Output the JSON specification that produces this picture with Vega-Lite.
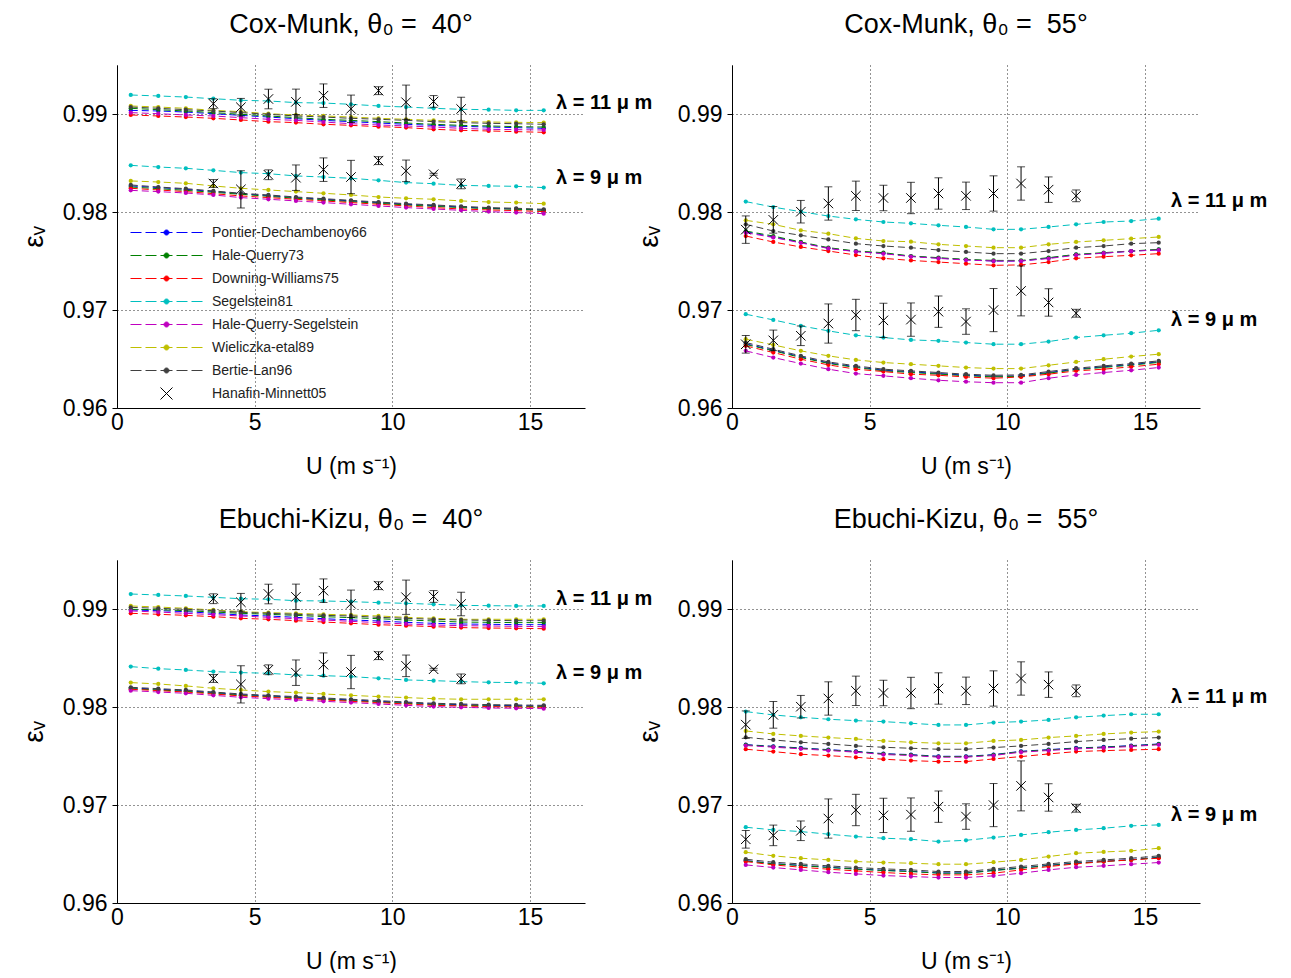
{
"$schema":"https://vega.github.io/schema/vega-lite/v6.json",
"background":"white",
"padding":{"left":20,"top":11,"right":5,"bottom":0},
"config":{
 "font":"Liberation Sans",
 "view":{"stroke":null},
 "title":{"fontSize":27,"fontWeight":"normal","font":"Liberation Sans","color":"black","offset":26,"baseline":"alphabetic"},
 "axis":{"labelFont":"Liberation Sans","labelFontSize":23,"labelColor":"black","titleFont":"Liberation Sans","titleFontSize":23,"titleFontWeight":"normal","titleColor":"black","domainColor":"black","domainWidth":1,"tickColor":"black","grid":true,"gridColor":"black","gridDash":[1,3],"gridOpacity":0.85,"gridWidth":1},
 "axisX":{"ticks":false,"labelPadding":3,"titlePadding":21,"labelFlush":false},
 "axisY":{"tickSize":5,"labelPadding":5,"titlePadding":14,"titleFontSize":28}
},
"datasets":{
"m":[
{"p":"A","l":11,"u":0.5,"PD":0.99037,"HQ":0.99058,"DW":0.9899,"S":0.99194,"HQS":0.99014,"W":0.99082,"BL":0.99071},
{"p":"A","l":11,"u":1.5,"PD":0.99031,"HQ":0.99044,"DW":0.9898,"S":0.99184,"HQS":0.99003,"W":0.99071,"BL":0.99058},
{"p":"A","l":11,"u":2.5,"PD":0.9902,"HQ":0.99031,"DW":0.98969,"S":0.99173,"HQS":0.9899,"W":0.99058,"BL":0.99044},
{"p":"A","l":11,"u":3.5,"PD":0.99003,"HQ":0.99014,"DW":0.98956,"S":0.99156,"HQS":0.9898,"W":0.99037,"BL":0.99031},
{"p":"A","l":11,"u":4.5,"PD":0.98986,"HQ":0.98997,"DW":0.98939,"S":0.9914,"HQS":0.98963,"W":0.99024,"BL":0.99014},
{"p":"A","l":11,"u":5.5,"PD":0.98969,"HQ":0.9898,"DW":0.98922,"S":0.99133,"HQS":0.98946,"W":0.99003,"BL":0.98997},
{"p":"A","l":11,"u":6.5,"PD":0.98952,"HQ":0.98963,"DW":0.98912,"S":0.99116,"HQS":0.98935,"W":0.9899,"BL":0.9898},
{"p":"A","l":11,"u":7.5,"PD":0.98935,"HQ":0.98946,"DW":0.98895,"S":0.99112,"HQS":0.98918,"W":0.9898,"BL":0.98969},
{"p":"A","l":11,"u":8.5,"PD":0.98922,"HQ":0.98935,"DW":0.98884,"S":0.99099,"HQS":0.98901,"W":0.98969,"BL":0.98956},
{"p":"A","l":11,"u":9.5,"PD":0.98908,"HQ":0.98922,"DW":0.98871,"S":0.99082,"HQS":0.98888,"W":0.98956,"BL":0.98946},
{"p":"A","l":11,"u":10.5,"PD":0.98895,"HQ":0.98908,"DW":0.98861,"S":0.99071,"HQS":0.98878,"W":0.98946,"BL":0.98935},
{"p":"A","l":11,"u":11.5,"PD":0.98884,"HQ":0.98895,"DW":0.98844,"S":0.99058,"HQS":0.98867,"W":0.98935,"BL":0.98922},
{"p":"A","l":11,"u":12.5,"PD":0.98874,"HQ":0.98884,"DW":0.98833,"S":0.99048,"HQS":0.98854,"W":0.98922,"BL":0.98912},
{"p":"A","l":11,"u":13.5,"PD":0.98867,"HQ":0.98878,"DW":0.98827,"S":0.99044,"HQS":0.98844,"W":0.98918,"BL":0.98905},
{"p":"A","l":11,"u":14.5,"PD":0.98861,"HQ":0.98871,"DW":0.9882,"S":0.99037,"HQS":0.9884,"W":0.98915,"BL":0.98901},
{"p":"A","l":11,"u":15.5,"PD":0.98854,"HQ":0.98867,"DW":0.98813,"S":0.99037,"HQS":0.98837,"W":0.98912,"BL":0.98895},
{"p":"A","l":9,"u":0.5,"PD":0.98266,"HQ":0.98255,"DW":0.98242,"S":0.98476,"HQS":0.98221,"W":0.98317,"BL":0.98276},
{"p":"A","l":9,"u":1.5,"PD":0.98249,"HQ":0.98238,"DW":0.98225,"S":0.98459,"HQS":0.98208,"W":0.98306,"BL":0.98255},
{"p":"A","l":9,"u":2.5,"PD":0.98232,"HQ":0.98221,"DW":0.98208,"S":0.98446,"HQS":0.98194,"W":0.98293,"BL":0.98238},
{"p":"A","l":9,"u":3.5,"PD":0.98208,"HQ":0.98201,"DW":0.98187,"S":0.98425,"HQS":0.98174,"W":0.98266,"BL":0.98215},
{"p":"A","l":9,"u":4.5,"PD":0.98187,"HQ":0.98181,"DW":0.98164,"S":0.98402,"HQS":0.98147,"W":0.98242,"BL":0.98191},
{"p":"A","l":9,"u":5.5,"PD":0.98167,"HQ":0.9816,"DW":0.98147,"S":0.98391,"HQS":0.9813,"W":0.98225,"BL":0.98174},
{"p":"A","l":9,"u":6.5,"PD":0.98147,"HQ":0.9814,"DW":0.9813,"S":0.98368,"HQS":0.98113,"W":0.98208,"BL":0.98153},
{"p":"A","l":9,"u":7.5,"PD":0.9813,"HQ":0.98123,"DW":0.98113,"S":0.98357,"HQS":0.98096,"W":0.98191,"BL":0.98136},
{"p":"A","l":9,"u":8.5,"PD":0.98113,"HQ":0.98106,"DW":0.98096,"S":0.98344,"HQS":0.98079,"W":0.98174,"BL":0.98119},
{"p":"A","l":9,"u":9.5,"PD":0.98096,"HQ":0.98089,"DW":0.98079,"S":0.98323,"HQS":0.98062,"W":0.98153,"BL":0.98102},
{"p":"A","l":9,"u":10.5,"PD":0.98079,"HQ":0.98072,"DW":0.98062,"S":0.983,"HQS":0.98045,"W":0.9814,"BL":0.98085},
{"p":"A","l":9,"u":11.5,"PD":0.98065,"HQ":0.98058,"DW":0.98045,"S":0.98289,"HQS":0.98031,"W":0.9813,"BL":0.98072},
{"p":"A","l":9,"u":12.5,"PD":0.98051,"HQ":0.98045,"DW":0.98031,"S":0.98272,"HQS":0.98017,"W":0.98113,"BL":0.98058},
{"p":"A","l":9,"u":13.5,"PD":0.98038,"HQ":0.98034,"DW":0.98021,"S":0.98266,"HQS":0.98004,"W":0.98102,"BL":0.98045},
{"p":"A","l":9,"u":14.5,"PD":0.98031,"HQ":0.98028,"DW":0.98014,"S":0.98262,"HQS":0.97994,"W":0.98096,"BL":0.98038},
{"p":"A","l":9,"u":15.5,"PD":0.98021,"HQ":0.98017,"DW":0.98004,"S":0.98249,"HQS":0.97983,"W":0.98085,"BL":0.98028},
{"p":"B","l":11,"u":0.5,"PD":0.97799,"HQ":0.97806,"DW":0.97755,"S":0.98106,"HQS":0.97789,"W":0.97915,"BL":0.97874},
{"p":"B","l":11,"u":1.5,"PD":0.97745,"HQ":0.97755,"DW":0.97694,"S":0.9805,"HQS":0.9774,"W":0.97874,"BL":0.97806},
{"p":"B","l":11,"u":2.5,"PD":0.9769,"HQ":0.97694,"DW":0.97643,"S":0.98003,"HQS":0.97685,"W":0.97813,"BL":0.97762},
{"p":"B","l":11,"u":3.5,"PD":0.9763,"HQ":0.97636,"DW":0.97602,"S":0.97959,"HQS":0.97628,"W":0.97779,"BL":0.9772},
{"p":"B","l":11,"u":4.5,"PD":0.97598,"HQ":0.97602,"DW":0.97561,"S":0.97925,"HQS":0.97595,"W":0.97731,"BL":0.97677},
{"p":"B","l":11,"u":5.5,"PD":0.97578,"HQ":0.97585,"DW":0.97527,"S":0.97898,"HQS":0.97575,"W":0.97704,"BL":0.97653},
{"p":"B","l":11,"u":6.5,"PD":0.97548,"HQ":0.97551,"DW":0.97506,"S":0.97884,"HQS":0.97545,"W":0.97697,"BL":0.97636},
{"p":"B","l":11,"u":7.5,"PD":0.9753,"HQ":0.97534,"DW":0.97489,"S":0.97864,"HQS":0.97527,"W":0.9767,"BL":0.97612},
{"p":"B","l":11,"u":8.5,"PD":0.97512,"HQ":0.97517,"DW":0.97473,"S":0.97847,"HQS":0.9751,"W":0.97653,"BL":0.97592},
{"p":"B","l":11,"u":9.5,"PD":0.975,"HQ":0.97506,"DW":0.97456,"S":0.97823,"HQS":0.975,"W":0.97636,"BL":0.97575},
{"p":"B","l":11,"u":10.5,"PD":0.975,"HQ":0.97506,"DW":0.9746,"S":0.97823,"HQS":0.975,"W":0.97636,"BL":0.97575},
{"p":"B","l":11,"u":11.5,"PD":0.9753,"HQ":0.97534,"DW":0.97489,"S":0.97847,"HQS":0.97525,"W":0.9767,"BL":0.97602},
{"p":"B","l":11,"u":12.5,"PD":0.97565,"HQ":0.97568,"DW":0.97527,"S":0.97874,"HQS":0.9756,"W":0.97694,"BL":0.97636},
{"p":"B","l":11,"u":13.5,"PD":0.9758,"HQ":0.97585,"DW":0.97544,"S":0.97898,"HQS":0.9758,"W":0.97711,"BL":0.97653},
{"p":"B","l":11,"u":14.5,"PD":0.976,"HQ":0.97602,"DW":0.97558,"S":0.97908,"HQS":0.976,"W":0.97728,"BL":0.97677},
{"p":"B","l":11,"u":15.5,"PD":0.97615,"HQ":0.97619,"DW":0.97575,"S":0.97932,"HQS":0.97612,"W":0.97745,"BL":0.97687},
{"p":"B","l":9,"u":0.5,"PD":0.96655,"HQ":0.96648,"DW":0.96634,"S":0.96957,"HQS":0.96583,"W":0.96702,"BL":0.96668},
{"p":"B","l":9,"u":1.5,"PD":0.9659,"HQ":0.96584,"DW":0.96566,"S":0.96899,"HQS":0.96515,"W":0.96644,"BL":0.966},
{"p":"B","l":9,"u":2.5,"PD":0.96522,"HQ":0.96515,"DW":0.96498,"S":0.96838,"HQS":0.96453,"W":0.96583,"BL":0.96532},
{"p":"B","l":9,"u":3.5,"PD":0.9646,"HQ":0.96455,"DW":0.9644,"S":0.96787,"HQS":0.96396,"W":0.96532,"BL":0.9647},
{"p":"B","l":9,"u":4.5,"PD":0.9642,"HQ":0.96413,"DW":0.96396,"S":0.96742,"HQS":0.96351,"W":0.96491,"BL":0.9643},
{"p":"B","l":9,"u":5.5,"PD":0.96386,"HQ":0.9638,"DW":0.96372,"S":0.96719,"HQS":0.96328,"W":0.96464,"BL":0.96396},
{"p":"B","l":9,"u":6.5,"PD":0.96369,"HQ":0.96362,"DW":0.96345,"S":0.96695,"HQS":0.96304,"W":0.96447,"BL":0.96379},
{"p":"B","l":9,"u":7.5,"PD":0.96352,"HQ":0.96346,"DW":0.96334,"S":0.96685,"HQS":0.96283,"W":0.9643,"BL":0.96362},
{"p":"B","l":9,"u":8.5,"PD":0.96335,"HQ":0.96329,"DW":0.96317,"S":0.96668,"HQS":0.96268,"W":0.96413,"BL":0.96345},
{"p":"B","l":9,"u":9.5,"PD":0.96324,"HQ":0.96318,"DW":0.96304,"S":0.96651,"HQS":0.96258,"W":0.96402,"BL":0.96334},
{"p":"B","l":9,"u":10.5,"PD":0.96328,"HQ":0.96322,"DW":0.96317,"S":0.96651,"HQS":0.96258,"W":0.96402,"BL":0.96338},
{"p":"B","l":9,"u":11.5,"PD":0.96362,"HQ":0.96356,"DW":0.96345,"S":0.96678,"HQS":0.96304,"W":0.96436,"BL":0.96372},
{"p":"B","l":9,"u":12.5,"PD":0.96396,"HQ":0.9639,"DW":0.96379,"S":0.96719,"HQS":0.96338,"W":0.9647,"BL":0.96406},
{"p":"B","l":9,"u":13.5,"PD":0.9642,"HQ":0.96414,"DW":0.96396,"S":0.96742,"HQS":0.96362,"W":0.96498,"BL":0.9643},
{"p":"B","l":9,"u":14.5,"PD":0.96443,"HQ":0.96437,"DW":0.9642,"S":0.96763,"HQS":0.96385,"W":0.96525,"BL":0.96453},
{"p":"B","l":9,"u":15.5,"PD":0.96471,"HQ":0.96465,"DW":0.96447,"S":0.96793,"HQS":0.96413,"W":0.96549,"BL":0.96481},
{"p":"C","l":11,"u":0.5,"PD":0.9899,"HQ":0.98997,"DW":0.98956,"S":0.99153,"HQS":0.9898,"W":0.99031,"BL":0.99017},
{"p":"C","l":11,"u":1.5,"PD":0.98983,"HQ":0.98993,"DW":0.98946,"S":0.99143,"HQS":0.98969,"W":0.9902,"BL":0.99007},
{"p":"C","l":11,"u":2.5,"PD":0.98973,"HQ":0.98983,"DW":0.98935,"S":0.99133,"HQS":0.98956,"W":0.99007,"BL":0.98997},
{"p":"C","l":11,"u":3.5,"PD":0.98956,"HQ":0.98969,"DW":0.98922,"S":0.99119,"HQS":0.98942,"W":0.9899,"BL":0.98983},
{"p":"C","l":11,"u":4.5,"PD":0.98939,"HQ":0.98956,"DW":0.98905,"S":0.99105,"HQS":0.98929,"W":0.98973,"BL":0.98966},
{"p":"C","l":11,"u":5.5,"PD":0.98929,"HQ":0.98946,"DW":0.98895,"S":0.99099,"HQS":0.98915,"W":0.98963,"BL":0.98956},
{"p":"C","l":11,"u":6.5,"PD":0.98915,"HQ":0.98935,"DW":0.98881,"S":0.99085,"HQS":0.98901,"W":0.98956,"BL":0.98946},
{"p":"C","l":11,"u":7.5,"PD":0.98901,"HQ":0.98922,"DW":0.98867,"S":0.99082,"HQS":0.98888,"W":0.98946,"BL":0.98935},
{"p":"C","l":11,"u":8.5,"PD":0.98888,"HQ":0.98912,"DW":0.98854,"S":0.99075,"HQS":0.98874,"W":0.98939,"BL":0.98929},
{"p":"C","l":11,"u":9.5,"PD":0.98878,"HQ":0.98901,"DW":0.9884,"S":0.99065,"HQS":0.98861,"W":0.98929,"BL":0.98915},
{"p":"C","l":11,"u":10.5,"PD":0.98864,"HQ":0.98888,"DW":0.9883,"S":0.99058,"HQS":0.98847,"W":0.98915,"BL":0.98905},
{"p":"C","l":11,"u":11.5,"PD":0.98854,"HQ":0.98878,"DW":0.9882,"S":0.99048,"HQS":0.98837,"W":0.98905,"BL":0.98895},
{"p":"C","l":11,"u":12.5,"PD":0.98847,"HQ":0.98867,"DW":0.9881,"S":0.99037,"HQS":0.9883,"W":0.98895,"BL":0.98888},
{"p":"C","l":11,"u":13.5,"PD":0.98844,"HQ":0.98864,"DW":0.98806,"S":0.99034,"HQS":0.98827,"W":0.98895,"BL":0.98884},
{"p":"C","l":11,"u":14.5,"PD":0.9884,"HQ":0.98861,"DW":0.98803,"S":0.99031,"HQS":0.98823,"W":0.98895,"BL":0.98881},
{"p":"C","l":11,"u":15.5,"PD":0.9884,"HQ":0.98861,"DW":0.98799,"S":0.99031,"HQS":0.9882,"W":0.98895,"BL":0.98881},
{"p":"C","l":9,"u":0.5,"PD":0.98194,"HQ":0.98187,"DW":0.98181,"S":0.98412,"HQS":0.98167,"W":0.98249,"BL":0.98201},
{"p":"C","l":9,"u":1.5,"PD":0.98181,"HQ":0.98174,"DW":0.98167,"S":0.98391,"HQS":0.98153,"W":0.98235,"BL":0.98187},
{"p":"C","l":9,"u":2.5,"PD":0.98167,"HQ":0.9816,"DW":0.98153,"S":0.98378,"HQS":0.9814,"W":0.98215,"BL":0.98174},
{"p":"C","l":9,"u":3.5,"PD":0.98147,"HQ":0.9814,"DW":0.98133,"S":0.98361,"HQS":0.98119,"W":0.98191,"BL":0.98153},
{"p":"C","l":9,"u":4.5,"PD":0.98126,"HQ":0.98119,"DW":0.98113,"S":0.98351,"HQS":0.98099,"W":0.98174,"BL":0.98133},
{"p":"C","l":9,"u":5.5,"PD":0.98113,"HQ":0.98106,"DW":0.98099,"S":0.98344,"HQS":0.98085,"W":0.98157,"BL":0.98119},
{"p":"C","l":9,"u":6.5,"PD":0.98099,"HQ":0.98092,"DW":0.98085,"S":0.98327,"HQS":0.98072,"W":0.98147,"BL":0.98106},
{"p":"C","l":9,"u":7.5,"PD":0.98085,"HQ":0.98079,"DW":0.98072,"S":0.9832,"HQS":0.98058,"W":0.98133,"BL":0.98092},
{"p":"C","l":9,"u":8.5,"PD":0.98072,"HQ":0.98065,"DW":0.98058,"S":0.9831,"HQS":0.98045,"W":0.98119,"BL":0.98079},
{"p":"C","l":9,"u":9.5,"PD":0.98058,"HQ":0.98051,"DW":0.98045,"S":0.98293,"HQS":0.98031,"W":0.98106,"BL":0.98065},
{"p":"C","l":9,"u":10.5,"PD":0.98045,"HQ":0.98038,"DW":0.98031,"S":0.98276,"HQS":0.98017,"W":0.98096,"BL":0.98051},
{"p":"C","l":9,"u":11.5,"PD":0.98031,"HQ":0.98024,"DW":0.98017,"S":0.98269,"HQS":0.98004,"W":0.98085,"BL":0.98038},
{"p":"C","l":9,"u":12.5,"PD":0.98024,"HQ":0.98017,"DW":0.98011,"S":0.98259,"HQS":0.97997,"W":0.98079,"BL":0.98031},
{"p":"C","l":9,"u":13.5,"PD":0.98017,"HQ":0.98011,"DW":0.98004,"S":0.98252,"HQS":0.9799,"W":0.98079,"BL":0.98024},
{"p":"C","l":9,"u":14.5,"PD":0.98014,"HQ":0.98007,"DW":0.98,"S":0.98249,"HQS":0.97987,"W":0.98079,"BL":0.98021},
{"p":"C","l":9,"u":15.5,"PD":0.98011,"HQ":0.98004,"DW":0.97997,"S":0.98242,"HQS":0.97983,"W":0.98079,"BL":0.98017},
{"p":"D","l":11,"u":0.5,"PD":0.97616,"HQ":0.97613,"DW":0.97569,"S":0.97953,"HQS":0.97607,"W":0.97756,"BL":0.97691},
{"p":"D","l":11,"u":1.5,"PD":0.97599,"HQ":0.97596,"DW":0.97545,"S":0.97919,"HQS":0.9759,"W":0.97725,"BL":0.97664},
{"p":"D","l":11,"u":2.5,"PD":0.97582,"HQ":0.97579,"DW":0.97518,"S":0.97895,"HQS":0.97573,"W":0.97705,"BL":0.9764},
{"p":"D","l":11,"u":3.5,"PD":0.97565,"HQ":0.97562,"DW":0.97504,"S":0.97875,"HQS":0.97556,"W":0.97688,"BL":0.97623},
{"p":"D","l":11,"u":4.5,"PD":0.97548,"HQ":0.97545,"DW":0.97487,"S":0.97861,"HQS":0.97539,"W":0.97674,"BL":0.97603},
{"p":"D","l":11,"u":5.5,"PD":0.97524,"HQ":0.97521,"DW":0.97467,"S":0.97851,"HQS":0.97515,"W":0.97654,"BL":0.97589},
{"p":"D","l":11,"u":6.5,"PD":0.97514,"HQ":0.97511,"DW":0.97453,"S":0.97834,"HQS":0.97505,"W":0.9764,"BL":0.97579},
{"p":"D","l":11,"u":7.5,"PD":0.97497,"HQ":0.97494,"DW":0.97443,"S":0.97817,"HQS":0.97488,"W":0.9763,"BL":0.97569},
{"p":"D","l":11,"u":8.5,"PD":0.97497,"HQ":0.97494,"DW":0.97443,"S":0.97817,"HQS":0.97488,"W":0.9763,"BL":0.97569},
{"p":"D","l":11,"u":9.5,"PD":0.97514,"HQ":0.97511,"DW":0.9747,"S":0.97841,"HQS":0.97505,"W":0.97654,"BL":0.97586},
{"p":"D","l":11,"u":10.5,"PD":0.97548,"HQ":0.97545,"DW":0.97494,"S":0.97851,"HQS":0.97539,"W":0.97664,"BL":0.97603},
{"p":"D","l":11,"u":11.5,"PD":0.97565,"HQ":0.97562,"DW":0.97521,"S":0.97868,"HQS":0.97556,"W":0.97688,"BL":0.97623},
{"p":"D","l":11,"u":12.5,"PD":0.97582,"HQ":0.97579,"DW":0.97545,"S":0.97895,"HQS":0.97573,"W":0.97705,"BL":0.97647},
{"p":"D","l":11,"u":13.5,"PD":0.97592,"HQ":0.97589,"DW":0.97555,"S":0.97912,"HQS":0.97583,"W":0.97725,"BL":0.97664},
{"p":"D","l":11,"u":14.5,"PD":0.97606,"HQ":0.97603,"DW":0.97562,"S":0.97926,"HQS":0.97597,"W":0.97739,"BL":0.97677},
{"p":"D","l":11,"u":15.5,"PD":0.97623,"HQ":0.9762,"DW":0.97569,"S":0.97926,"HQS":0.97614,"W":0.97749,"BL":0.97688},
{"p":"D","l":9,"u":0.5,"PD":0.96433,"HQ":0.9643,"DW":0.96423,"S":0.96773,"HQS":0.96389,"W":0.96518,"BL":0.96447},
{"p":"D","l":9,"u":1.5,"PD":0.96402,"HQ":0.96399,"DW":0.96389,"S":0.96746,"HQS":0.96362,"W":0.96481,"BL":0.96416},
{"p":"D","l":9,"u":2.5,"PD":0.96385,"HQ":0.96382,"DW":0.96365,"S":0.96729,"HQS":0.96338,"W":0.96457,"BL":0.96399},
{"p":"D","l":9,"u":3.5,"PD":0.96365,"HQ":0.96362,"DW":0.96345,"S":0.96702,"HQS":0.96314,"W":0.9644,"BL":0.96379},
{"p":"D","l":9,"u":4.5,"PD":0.96348,"HQ":0.96345,"DW":0.96328,"S":0.96678,"HQS":0.96297,"W":0.96423,"BL":0.96362},
{"p":"D","l":9,"u":5.5,"PD":0.96334,"HQ":0.96331,"DW":0.96311,"S":0.96661,"HQS":0.9628,"W":0.96413,"BL":0.96348},
{"p":"D","l":9,"u":6.5,"PD":0.96324,"HQ":0.96321,"DW":0.96297,"S":0.96651,"HQS":0.9627,"W":0.96406,"BL":0.96338},
{"p":"D","l":9,"u":7.5,"PD":0.96307,"HQ":0.96304,"DW":0.96287,"S":0.96627,"HQS":0.9626,"W":0.96396,"BL":0.96321},
{"p":"D","l":9,"u":8.5,"PD":0.96307,"HQ":0.96304,"DW":0.96287,"S":0.9664,"HQS":0.9626,"W":0.96396,"BL":0.96321},
{"p":"D","l":9,"u":9.5,"PD":0.96334,"HQ":0.96331,"DW":0.96304,"S":0.96668,"HQS":0.96277,"W":0.96416,"BL":0.96348},
{"p":"D","l":9,"u":10.5,"PD":0.96358,"HQ":0.96355,"DW":0.96338,"S":0.96695,"HQS":0.96304,"W":0.9644,"BL":0.96372},
{"p":"D","l":9,"u":11.5,"PD":0.96385,"HQ":0.96382,"DW":0.96372,"S":0.96722,"HQS":0.96338,"W":0.96474,"BL":0.96399},
{"p":"D","l":9,"u":12.5,"PD":0.96409,"HQ":0.96406,"DW":0.96399,"S":0.96746,"HQS":0.96365,"W":0.96508,"BL":0.96423},
{"p":"D","l":9,"u":13.5,"PD":0.96426,"HQ":0.96423,"DW":0.96423,"S":0.96763,"HQS":0.96379,"W":0.96521,"BL":0.9644},
{"p":"D","l":9,"u":14.5,"PD":0.96443,"HQ":0.9644,"DW":0.9644,"S":0.96787,"HQS":0.96396,"W":0.96532,"BL":0.96457},
{"p":"D","l":9,"u":15.5,"PD":0.96467,"HQ":0.96464,"DW":0.96457,"S":0.96797,"HQS":0.96413,"W":0.96559,"BL":0.96481}
],
"o":[
{"th":40,"l":11,"u":3.5,"e":0.99105,"err":0.0005},
{"th":40,"l":11,"u":4.5,"e":0.99069,"err":0.0009},
{"th":40,"l":11,"u":5.5,"e":0.99153,"err":0.001},
{"th":40,"l":11,"u":6.5,"e":0.99124,"err":0.0013},
{"th":40,"l":11,"u":7.5,"e":0.99187,"err":0.0012},
{"th":40,"l":11,"u":8.5,"e":0.99053,"err":0.0014},
{"th":40,"l":11,"u":9.5,"e":0.99238,"err":0.0004},
{"th":40,"l":11,"u":10.5,"e":0.9912,"err":0.00175},
{"th":40,"l":11,"u":11.5,"e":0.99128,"err":0.0006},
{"th":40,"l":11,"u":12.5,"e":0.99051,"err":0.0012},
{"th":40,"l":9,"u":3.5,"e":0.98291,"err":0.0004},
{"th":40,"l":9,"u":4.5,"e":0.98231,"err":0.0019},
{"th":40,"l":9,"u":5.5,"e":0.9838,"err":0.0005},
{"th":40,"l":9,"u":6.5,"e":0.9835,"err":0.0013},
{"th":40,"l":9,"u":7.5,"e":0.98432,"err":0.0012},
{"th":40,"l":9,"u":8.5,"e":0.98357,"err":0.0017},
{"th":40,"l":9,"u":9.5,"e":0.98524,"err":0.0004},
{"th":40,"l":9,"u":10.5,"e":0.9842,"err":0.0011},
{"th":40,"l":9,"u":11.5,"e":0.98385,"err":0.0001},
{"th":40,"l":9,"u":12.5,"e":0.98287,"err":0.0005},
{"th":55,"l":11,"u":0.5,"e":0.9782,"err":0.0014},
{"th":55,"l":11,"u":1.5,"e":0.9792,"err":0.00136},
{"th":55,"l":11,"u":2.5,"e":0.98003,"err":0.00115},
{"th":55,"l":11,"u":3.5,"e":0.98087,"err":0.0017},
{"th":55,"l":11,"u":4.5,"e":0.98165,"err":0.0015},
{"th":55,"l":11,"u":5.5,"e":0.98143,"err":0.0013},
{"th":55,"l":11,"u":6.5,"e":0.98143,"err":0.0016},
{"th":55,"l":11,"u":7.5,"e":0.98189,"err":0.0016},
{"th":55,"l":11,"u":8.5,"e":0.98165,"err":0.0014},
{"th":55,"l":11,"u":9.5,"e":0.98189,"err":0.0018},
{"th":55,"l":11,"u":10.5,"e":0.98291,"err":0.0017},
{"th":55,"l":11,"u":11.5,"e":0.98228,"err":0.0013},
{"th":55,"l":11,"u":12.5,"e":0.98165,"err":0.0006},
{"th":55,"l":9,"u":0.5,"e":0.9665,"err":0.0009},
{"th":55,"l":9,"u":1.5,"e":0.9669,"err":0.00105},
{"th":55,"l":9,"u":2.5,"e":0.96737,"err":0.001},
{"th":55,"l":9,"u":3.5,"e":0.96862,"err":0.002},
{"th":55,"l":9,"u":4.5,"e":0.96949,"err":0.0016},
{"th":55,"l":9,"u":5.5,"e":0.96894,"err":0.00175},
{"th":55,"l":9,"u":6.5,"e":0.96902,"err":0.0017},
{"th":55,"l":9,"u":7.5,"e":0.96983,"err":0.0016},
{"th":55,"l":9,"u":8.5,"e":0.96882,"err":0.0013},
{"th":55,"l":9,"u":9.5,"e":0.96999,"err":0.0022},
{"th":55,"l":9,"u":10.5,"e":0.97195,"err":0.00255},
{"th":55,"l":9,"u":11.5,"e":0.97077,"err":0.0014},
{"th":55,"l":9,"u":12.5,"e":0.96967,"err":0.0004}
],
"lab":[
{"p":"A","u":15.95,"e":0.99112,"t":"λ = 11 μ m"},
{"p":"A","u":15.95,"e":0.98347,"t":"λ = 9 μ m"},
{"p":"B","u":15.95,"e":0.98112,"t":"λ = 11 μ m"},
{"p":"B","u":15.95,"e":0.96898,"t":"λ = 9 μ m"},
{"p":"C","u":15.95,"e":0.99102,"t":"λ = 11 μ m"},
{"p":"C","u":15.95,"e":0.98347,"t":"λ = 9 μ m"},
{"p":"D","u":15.95,"e":0.98102,"t":"λ = 11 μ m"},
{"p":"D","u":15.95,"e":0.96898,"t":"λ = 9 μ m"}
]
},
"spacing":28,
"vconcat":[
{"spacing":147,"bounds":"flush","hconcat":[
{"width":468,"height":343,"title":"Cox-Munk, θ₀ = \u00a040°","layer":[
 {"data":{"name":"m"},"transform":[{"filter":"datum.p=='A'"},{"fold":["PD","HQ","DW","S","HQS","W","BL"],"as":["model","e"]}],
  "mark":{"type":"line","strokeWidth":1,"strokeDash":[7,4],"point":{"filled":true,"size":18,"opacity":1}},
  "encoding":{
   "x":{"field":"u","type":"quantitative","title":"U (m s⁻¹)","scale":{"domain":[0,17],"nice":false},"axis":{"values":[0,5,10,15]}},
   "y":{"field":"e","type":"quantitative","title":"εᵥ","scale":{"domain":[0.96,0.995],"nice":false,"zero":false},"axis":{"values":[0.96,0.97,0.98,0.99],"format":".2f"}},
   "color":{"field":"model","type":"nominal","scale":{"domain":["PD","HQ","DW","S","HQS","W","BL","HM"],"range":["#0000FF","#008000","#FF0000","#00BFBF","#BF00BF","#BFBF00","#404040","#000000"]},
    "legend":{"orient":"none","legendX":39,"legendY":157,"title":null,"padding":0,"symbolSize":400,"rowPadding":5,"labelOffset":35,"labelFontSize":14,"labelFont":"Liberation Sans","labelColor":"#222222","labelLimit":300,
     "labelExpr":"datum.label=='PD'?'Pontier-Dechambenoy66':datum.label=='HQ'?'Hale-Querry73':datum.label=='DW'?'Downing-Williams75':datum.label=='S'?'Segelstein81':datum.label=='HQS'?'Hale-Querry-Segelstein':datum.label=='W'?'Wieliczka-etal89':datum.label=='BL'?'Bertie-Lan96':'Hanafin-Minnett05'",
     "encode":{"symbols":{"update":{"shape":{"signal":"datum.value=='HM'?'M-0.6,-0.6L0.6,0.6M-0.6,0.6L0.6,-0.6':'M-3.6,0H-2.5M-2.1,0H-1M-0.6,0H0.6M1,0H2.1M2.5,0H3.6M0.25,0A0.25,0.25,0,1,1,-0.25,0A0.25,0.25,0,1,1,0.25,0Z'"},"fill":{"scale":"color","field":"value"},"stroke":{"scale":"color","field":"value"},"strokeWidth":{"value":1},"opacity":{"value":1}}}}}},
   "detail":{"field":"l","type":"nominal"}}},
 {"data":{"name":"o"},"transform":[{"filter":"datum.th==40"}],"mark":{"type":"errorbar","ticks":true,"size":8,"thickness":1,"color":"black"},"encoding":{"x":{"field":"u","type":"quantitative","title":"U (m s⁻¹)"},"y":{"field":"e","type":"quantitative","title":"εᵥ"},"yError":{"field":"err"}}},
 {"data":{"name":"o"},"transform":[{"filter":"datum.th==40"}],"mark":{"type":"point","shape":"M-1,-1L1,1M-1,1L1,-1","size":90,"strokeWidth":1,"filled":false,"opacity":1},"encoding":{"x":{"field":"u","type":"quantitative","title":"U (m s⁻¹)"},"y":{"field":"e","type":"quantitative","title":"εᵥ"},"color":{"datum":"HM","type":"nominal"}}},
 {"data":{"name":"lab"},"transform":[{"filter":"datum.p=='A'"}],"mark":{"type":"text","align":"left","baseline":"middle","fontSize":20,"fontWeight":"bold","font":"Liberation Sans","color":"black"},"encoding":{"x":{"field":"u","type":"quantitative","title":"U (m s⁻¹)"},"y":{"field":"e","type":"quantitative","title":"εᵥ"},"text":{"field":"t"}}}
]},
{"width":468,"height":343,"title":"Cox-Munk, θ₀ = \u00a055°","layer":[
 {"data":{"name":"m"},"transform":[{"filter":"datum.p=='B'"},{"fold":["PD","HQ","DW","S","HQS","W","BL"],"as":["model","e"]}],
  "mark":{"type":"line","strokeWidth":1,"strokeDash":[7,4],"point":{"filled":true,"size":18,"opacity":1}},
  "encoding":{
   "x":{"field":"u","type":"quantitative","title":"U (m s⁻¹)","scale":{"domain":[0,17],"nice":false},"axis":{"values":[0,5,10,15]}},
   "y":{"field":"e","type":"quantitative","title":"εᵥ","scale":{"domain":[0.96,0.995],"nice":false,"zero":false},"axis":{"values":[0.96,0.97,0.98,0.99],"format":".2f"}},
   "color":{"field":"model","type":"nominal"},
   "detail":{"field":"l","type":"nominal"}}},
 {"data":{"name":"o"},"transform":[{"filter":"datum.th==55"}],"mark":{"type":"errorbar","ticks":true,"size":8,"thickness":1,"color":"black"},"encoding":{"x":{"field":"u","type":"quantitative","title":"U (m s⁻¹)"},"y":{"field":"e","type":"quantitative","title":"εᵥ"},"yError":{"field":"err"}}},
 {"data":{"name":"o"},"transform":[{"filter":"datum.th==55"}],"mark":{"type":"point","shape":"M-1,-1L1,1M-1,1L1,-1","size":90,"strokeWidth":1,"filled":false,"opacity":1},"encoding":{"x":{"field":"u","type":"quantitative","title":"U (m s⁻¹)"},"y":{"field":"e","type":"quantitative","title":"εᵥ"},"color":{"datum":"HM","type":"nominal"}}},
 {"data":{"name":"lab"},"transform":[{"filter":"datum.p=='B'"}],"mark":{"type":"text","align":"left","baseline":"middle","fontSize":20,"fontWeight":"bold","font":"Liberation Sans","color":"black"},"encoding":{"x":{"field":"u","type":"quantitative","title":"U (m s⁻¹)"},"y":{"field":"e","type":"quantitative","title":"εᵥ"},"text":{"field":"t"}}}
]}
]},
{"spacing":147,"bounds":"flush","hconcat":[
{"width":468,"height":343,"title":"Ebuchi-Kizu, θ₀ = \u00a040°","layer":[
 {"data":{"name":"m"},"transform":[{"filter":"datum.p=='C'"},{"fold":["PD","HQ","DW","S","HQS","W","BL"],"as":["model","e"]}],
  "mark":{"type":"line","strokeWidth":1,"strokeDash":[7,4],"point":{"filled":true,"size":18,"opacity":1}},
  "encoding":{
   "x":{"field":"u","type":"quantitative","title":"U (m s⁻¹)","scale":{"domain":[0,17],"nice":false},"axis":{"values":[0,5,10,15]}},
   "y":{"field":"e","type":"quantitative","title":"εᵥ","scale":{"domain":[0.96,0.995],"nice":false,"zero":false},"axis":{"values":[0.96,0.97,0.98,0.99],"format":".2f"}},
   "color":{"field":"model","type":"nominal"},
   "detail":{"field":"l","type":"nominal"}}},
 {"data":{"name":"o"},"transform":[{"filter":"datum.th==40"}],"mark":{"type":"errorbar","ticks":true,"size":8,"thickness":1,"color":"black"},"encoding":{"x":{"field":"u","type":"quantitative","title":"U (m s⁻¹)"},"y":{"field":"e","type":"quantitative","title":"εᵥ"},"yError":{"field":"err"}}},
 {"data":{"name":"o"},"transform":[{"filter":"datum.th==40"}],"mark":{"type":"point","shape":"M-1,-1L1,1M-1,1L1,-1","size":90,"strokeWidth":1,"filled":false,"opacity":1},"encoding":{"x":{"field":"u","type":"quantitative","title":"U (m s⁻¹)"},"y":{"field":"e","type":"quantitative","title":"εᵥ"},"color":{"datum":"HM","type":"nominal"}}},
 {"data":{"name":"lab"},"transform":[{"filter":"datum.p=='C'"}],"mark":{"type":"text","align":"left","baseline":"middle","fontSize":20,"fontWeight":"bold","font":"Liberation Sans","color":"black"},"encoding":{"x":{"field":"u","type":"quantitative","title":"U (m s⁻¹)"},"y":{"field":"e","type":"quantitative","title":"εᵥ"},"text":{"field":"t"}}}
]},
{"width":468,"height":343,"title":"Ebuchi-Kizu, θ₀ = \u00a055°","layer":[
 {"data":{"name":"m"},"transform":[{"filter":"datum.p=='D'"},{"fold":["PD","HQ","DW","S","HQS","W","BL"],"as":["model","e"]}],
  "mark":{"type":"line","strokeWidth":1,"strokeDash":[7,4],"point":{"filled":true,"size":18,"opacity":1}},
  "encoding":{
   "x":{"field":"u","type":"quantitative","title":"U (m s⁻¹)","scale":{"domain":[0,17],"nice":false},"axis":{"values":[0,5,10,15]}},
   "y":{"field":"e","type":"quantitative","title":"εᵥ","scale":{"domain":[0.96,0.995],"nice":false,"zero":false},"axis":{"values":[0.96,0.97,0.98,0.99],"format":".2f"}},
   "color":{"field":"model","type":"nominal"},
   "detail":{"field":"l","type":"nominal"}}},
 {"data":{"name":"o"},"transform":[{"filter":"datum.th==55"}],"mark":{"type":"errorbar","ticks":true,"size":8,"thickness":1,"color":"black"},"encoding":{"x":{"field":"u","type":"quantitative","title":"U (m s⁻¹)"},"y":{"field":"e","type":"quantitative","title":"εᵥ"},"yError":{"field":"err"}}},
 {"data":{"name":"o"},"transform":[{"filter":"datum.th==55"}],"mark":{"type":"point","shape":"M-1,-1L1,1M-1,1L1,-1","size":90,"strokeWidth":1,"filled":false,"opacity":1},"encoding":{"x":{"field":"u","type":"quantitative","title":"U (m s⁻¹)"},"y":{"field":"e","type":"quantitative","title":"εᵥ"},"color":{"datum":"HM","type":"nominal"}}},
 {"data":{"name":"lab"},"transform":[{"filter":"datum.p=='D'"}],"mark":{"type":"text","align":"left","baseline":"middle","fontSize":20,"fontWeight":"bold","font":"Liberation Sans","color":"black"},"encoding":{"x":{"field":"u","type":"quantitative","title":"U (m s⁻¹)"},"y":{"field":"e","type":"quantitative","title":"εᵥ"},"text":{"field":"t"}}}
]}
]}
]
}
